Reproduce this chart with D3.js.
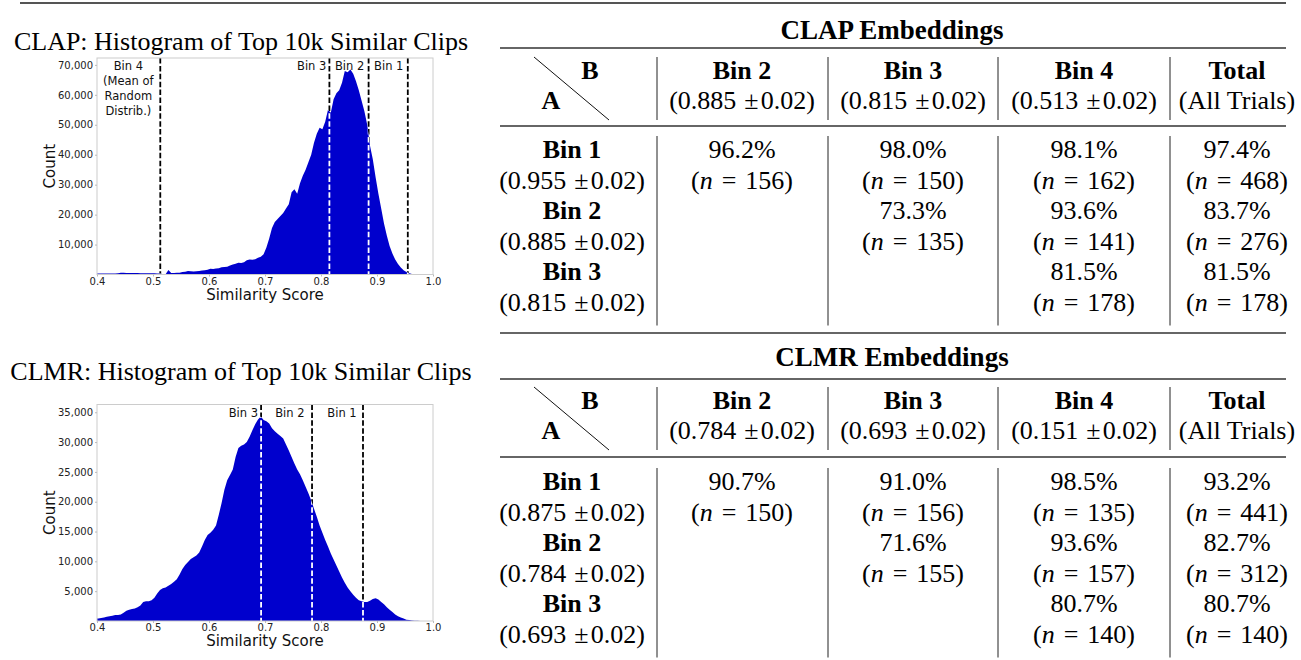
<!DOCTYPE html>
<html>
<head>
<meta charset="utf-8">
<script src="https://cdn.jsdelivr.net/npm/d3@7"></script>
<style>
  body { margin: 0; background: #fff; }
  text { font-family: "DejaVu Sans", sans-serif; }
  text.serif { font-family: "Liberation Serif", "Times New Roman", serif; }
</style>
</head>
<body>
<div id="chart"></div>
<script>
// histogram bins: start at 0.40, width 0.005
var binStart = 0.40;
var binWidth = 0.005;

var clapCounts = [
  300, 300, 300, 300, 300, 300, 300, 400, 600, 600,
  500, 500, 500, 500, 500, 400, 400, 400, 400, 400,
  400, 300, 300, 100, 100, 1500, 500, 500, 600, 600,
  800, 900, 1200, 1100, 1000, 1100, 1200, 1300, 1400, 1600,
  1900, 1800, 2000, 2100, 2400, 2500, 2600, 3000, 3300, 3600,
  3900, 3800, 4100, 4800, 5000, 4900, 5100, 5600, 5900, 6800,
  9000, 12000, 15500, 17500, 18500, 19500, 20500, 22000, 23500, 27500,
  28500, 27000, 30500, 33000, 35000, 37500, 40000, 44000, 47000, 49000,
  48500, 51000, 55000, 54000, 58500, 60500, 61500, 64000, 68000, 67500,
  68500, 67000, 64500, 61500, 58000, 54500, 50000, 43000, 38500, 32500,
  27000, 22000, 17000, 13000, 9500, 7000, 5000, 3500, 2300, 1400,
  800, 400, 200, 100, 50, 0
];

var clmrCounts = [
  400, 500, 600, 700, 800, 900, 1000, 1000, 1100, 1400,
  1700, 1900, 2000, 2100, 2300, 2600, 3200, 3300, 3300, 3500,
  3900, 4600, 5200, 5500, 5600, 5900, 6200, 6600, 7000, 7800,
  8700, 9400, 9900, 10400, 10700, 11000, 11500, 12500, 13600, 14400,
  14800, 15300, 16000, 17800, 19800, 22000, 23600, 24500, 25400, 27500,
  29000, 29400, 29600, 30000, 30900, 32000, 33000, 33800, 34300, 33700,
  33500, 33100, 32300, 31800, 31400, 31000, 30600, 29600, 28600, 27500,
  26400, 25400, 24600, 23600, 22500, 21400, 20200, 18800, 17500, 16000,
  14800, 13600, 12500, 11300, 10300, 9300, 8300, 7300, 6400, 5600,
  5000, 4400, 3900, 3500, 3300, 3200, 3200, 3400, 3700, 3800,
  3600, 3200, 2800, 2300, 1900, 1500, 1100, 800, 600, 400,
  200, 150, 100, 50, 30, 0
];

var xTicks = [0.4, 0.5, 0.6, 0.7, 0.8, 0.9, 1.0];
var clapYTicks = [10000, 20000, 30000, 40000, 50000, 60000, 70000];
var clmrYTicks = [5000, 10000, 15000, 20000, 25000, 30000, 35000];

var clapBinLines = [0.513, 0.815, 0.885, 0.955];
var clmrBinLines = [0.693, 0.784, 0.875];

// table values
var colBins = ["Bin 2", "Bin 3", "Bin 4"];
var rowBins = ["Bin 1", "Bin 2", "Bin 3"];

var clapColScores = ["0.885", "0.815", "0.513"];
var clapRowScores = ["0.955", "0.885", "0.815"];
var clapPct = [[96.2, 98.0, 98.1, 97.4], [null, 73.3, 93.6, 83.7], [null, null, 81.5, 81.5]];
var clapN = [[156, 150, 162, 468], [null, 135, 141, 276], [null, null, 178, 178]];

var clmrColScores = ["0.784", "0.693", "0.151"];
var clmrRowScores = ["0.875", "0.784", "0.693"];
var clmrPct = [[90.7, 91.0, 98.5, 93.2], [null, 71.6, 93.6, 82.7], [null, null, 80.7, 80.7]];
var clmrN = [[150, 156, 135, 441], [null, 155, 157, 312], [null, null, 140, 140]];

var svg = d3.select("#chart")
  .append("svg")
  .attr("width", 1301)
  .attr("height", 660);

var blue = "#0000cd";

// top rule
svg.append("line")
  .attr("x1", 20).attr("x2", 1286)
  .attr("y1", 3).attr("y2", 3)
  .attr("stroke", "#555").attr("stroke-width", 2);

function drawHist(opt) {
  var x = d3.scaleLinear().domain([0.4, 1.0]).range([97, 433]);
  var y = d3.scaleLinear().domain([0, opt.yTop]).range([opt.bottom, opt.top]);
  var g = svg.append("g");

  svg.append("text")
    .attr("class", "serif")
    .attr("x", 241).attr("y", opt.titleY)
    .attr("text-anchor", "middle")
    .attr("font-size", "26px")
    .text(opt.title);

  // points at bin centres, closed at both edges
  var pts = opt.counts.map(function(c, i) {
    return { x: binStart + (i + 0.5) * binWidth, c: c };
  });
  pts.unshift({ x: binStart, c: opt.counts[0] });
  pts.push({ x: binStart + opt.counts.length * binWidth, c: 0 });

  var area = d3.area()
    .x(d => x(d.x))
    .y0(y(0))
    .y1(d => y(d.c));

  // black dashed lines behind the fill
  g.selectAll(".binline")
    .data(opt.lines)
    .enter()
    .append("line")
    .attr("x1", d => x(d)).attr("x2", d => x(d))
    .attr("y1", opt.top).attr("y2", opt.bottom)
    .attr("stroke", "#000")
    .attr("stroke-width", 1.8)
    .attr("stroke-dasharray", "5.5,2.4");

  g.append("path")
    .datum(pts)
    .attr("d", area)
    .attr("fill", blue);

  var clipId = "clip" + opt.id;
  svg.append("clipPath")
    .attr("id", clipId)
    .append("path")
    .datum(pts)
    .attr("d", area);

  // white dashes where the lines cross the histogram
  g.append("g")
    .attr("clip-path", "url(#" + clipId + ")")
    .selectAll("line")
    .data(opt.lines)
    .enter()
    .append("line")
    .attr("x1", d => x(d)).attr("x2", d => x(d))
    .attr("y1", opt.top).attr("y2", opt.bottom)
    .attr("stroke", "#fff")
    .attr("stroke-width", 1.8)
    .attr("stroke-dasharray", "5.5,2.4");

  g.append("rect")
    .attr("x", 97).attr("y", opt.top)
    .attr("width", 336).attr("height", opt.bottom - opt.top)
    .attr("fill", "none")
    .attr("stroke", "#ccc")
    .attr("stroke-width", 1);

  var xAxis = g.append("g")
    .attr("transform", `translate(0, ${opt.bottom})`)
    .call(d3.axisBottom(x).tickValues(xTicks).tickFormat(d3.format(".1f")).tickSize(2).tickPadding(1));
  var yAxis = g.append("g")
    .attr("transform", "translate(97, 0)")
    .call(d3.axisLeft(y).tickValues(opt.yTicks).tickFormat(d3.format(",")).tickSize(2).tickPadding(2));
  [xAxis, yAxis].forEach(function(a) {
    a.select(".domain").remove();
    a.selectAll("line").attr("stroke", "#bbb");
    a.selectAll("text")
      .attr("font-size", "10px")
      .attr("fill", "#222")
      .style("font-family", "DejaVu Sans, sans-serif");
  });

  g.append("text")
    .attr("x", 265).attr("y", opt.bottom + 25)
    .attr("text-anchor", "middle")
    .attr("font-size", "15px")
    .attr("fill", "#111")
    .text("Similarity Score");

  g.append("text")
    .attr("transform", `translate(55, ${(opt.top + opt.bottom) / 2}) rotate(-90)`)
    .attr("text-anchor", "middle")
    .attr("font-size", "15px")
    .attr("fill", "#111")
    .text("Count");

  opt.labels.forEach(function(lb) {
    var lx = x(lb.at) + (lb.anchor === "end" ? -3 : 0);
    var t = g.append("text")
      .attr("x", lx)
      .attr("y", opt.top + 12)
      .attr("text-anchor", lb.anchor)
      .attr("font-size", "11.5px")
      .attr("fill", "#111");
    lb.text.forEach(function(s, i) {
      t.append("tspan")
        .attr("x", lx)
        .attr("dy", i === 0 ? 0 : 15)
        .text(s);
    });
  });
}

drawHist({
  id: "clap", title: "CLAP: Histogram of Top 10k Similar Clips", titleY: 50,
  counts: clapCounts, yTop: 72300, top: 58, bottom: 274.5,
  yTicks: clapYTicks, lines: clapBinLines,
  labels: [
    { at: 0.456, anchor: "middle", text: ["Bin 4", "(Mean of", "Random", "Distrib.)"] },
    { at: 0.815, anchor: "end", text: ["Bin 3"] },
    { at: 0.851, anchor: "middle", text: ["Bin 2"] },
    { at: 0.921, anchor: "middle", text: ["Bin 1"] }
  ]
});

drawHist({
  id: "clmr", title: "CLMR: Histogram of Top 10k Similar Clips", titleY: 380,
  counts: clmrCounts, yTop: 36300, top: 404.5, bottom: 621,
  yTicks: clmrYTicks, lines: clmrBinLines,
  labels: [
    { at: 0.693, anchor: "end", text: ["Bin 3"] },
    { at: 0.7445, anchor: "middle", text: ["Bin 2"] },
    { at: 0.8375, anchor: "middle", text: ["Bin 1"] }
  ]
});

function scoreText(sel, score) {
  sel.append("tspan").text(`(${score}`);
  sel.append("tspan").attr("dx", 8).text("\u00b1");
  sel.append("tspan").attr("dx", 2).text("0.02)");
}

function drawTable(opt) {
  var g = svg.append("g");
  var fs = "26px";
  var sep = [657, 828, 998, 1170];
  var cx = [572, 742, 913, 1084, 1237];

  g.append("text")
    .attr("class", "serif")
    .attr("x", 892).attr("y", opt.titleY)
    .attr("text-anchor", "middle")
    .attr("font-size", "27px")
    .attr("font-weight", "bold")
    .text(opt.title);

  opt.rules.forEach(function(r) {
    g.append("line")
      .attr("x1", 500).attr("x2", 1286)
      .attr("y1", r).attr("y2", r)
      .attr("stroke", "#333").attr("stroke-width", 1.3);
  });

  // column separators
  sep.forEach(function(s) {
    g.append("line")
      .attr("x1", s).attr("x2", s)
      .attr("y1", opt.head[0] - 22).attr("y2", opt.head[1] + 11)
      .attr("stroke", "#222").attr("stroke-width", 1);
    g.append("line")
      .attr("x1", s).attr("x2", s)
      .attr("y1", opt.body[0] - 22).attr("y2", opt.body[5] + 15)
      .attr("stroke", "#222").attr("stroke-width", 1);
  });

  // diagonal header cell
  g.append("line")
    .attr("x1", 534).attr("x2", 609)
    .attr("y1", opt.head[0] - 22).attr("y2", opt.head[1] + 11)
    .attr("stroke", "#111").attr("stroke-width", 1);
  g.append("text").attr("class", "serif").attr("x", 590).attr("y", opt.head[0])
    .attr("text-anchor", "middle").attr("font-size", fs).attr("font-weight", "bold").text("B");
  g.append("text").attr("class", "serif").attr("x", 551).attr("y", opt.head[1])
    .attr("text-anchor", "middle").attr("font-size", fs).attr("font-weight", "bold").text("A");

  colBins.concat(["Total"]).forEach(function(b, i) {
    g.append("text").attr("class", "serif")
      .attr("x", cx[i + 1]).attr("y", opt.head[0])
      .attr("text-anchor", "middle").attr("font-size", fs).attr("font-weight", "bold")
      .text(b);
    var t = g.append("text").attr("class", "serif")
      .attr("x", cx[i + 1]).attr("y", opt.head[1])
      .attr("text-anchor", "middle").attr("font-size", fs);
    if (i < 3) scoreText(t, opt.colScores[i]);
    else t.text("(All Trials)");
  });

  rowBins.forEach(function(b, r) {
    g.append("text").attr("class", "serif")
      .attr("x", cx[0]).attr("y", opt.body[2 * r])
      .attr("text-anchor", "middle").attr("font-size", fs).attr("font-weight", "bold")
      .text(b);
    var st = g.append("text").attr("class", "serif")
      .attr("x", cx[0]).attr("y", opt.body[2 * r + 1])
      .attr("text-anchor", "middle").attr("font-size", fs);
    scoreText(st, opt.rowScores[r]);

    opt.pct[r].forEach(function(p, c) {
      if (p === null) return;
      g.append("text").attr("class", "serif")
        .attr("x", cx[c + 1]).attr("y", opt.body[2 * r])
        .attr("text-anchor", "middle").attr("font-size", fs)
        .text(p.toFixed(1) + "%");
      var t = g.append("text").attr("class", "serif")
        .attr("x", cx[c + 1]).attr("y", opt.body[2 * r + 1])
        .attr("text-anchor", "middle").attr("font-size", fs);
      t.append("tspan").text("(");
      t.append("tspan").attr("font-style", "italic").text("n");
      t.append("tspan").attr("dx", 9).text("=");
      t.append("tspan").attr("dx", 9).text(opt.n[r][c] + ")");
    });
  });
}

drawTable({
  title: "CLAP Embeddings", titleY: 39,
  rules: [48, 126, 333],
  head: [79, 109],
  body: [158, 188.5, 219, 249.5, 280, 310.5],
  colScores: clapColScores, rowScores: clapRowScores, pct: clapPct, n: clapN
});

drawTable({
  title: "CLMR Embeddings", titleY: 366,
  rules: [379, 457],
  head: [409, 439],
  body: [490, 520.5, 551, 581.5, 612, 642.5],
  colScores: clmrColScores, rowScores: clmrRowScores, pct: clmrPct, n: clmrN
});
</script>
</body>
</html>
